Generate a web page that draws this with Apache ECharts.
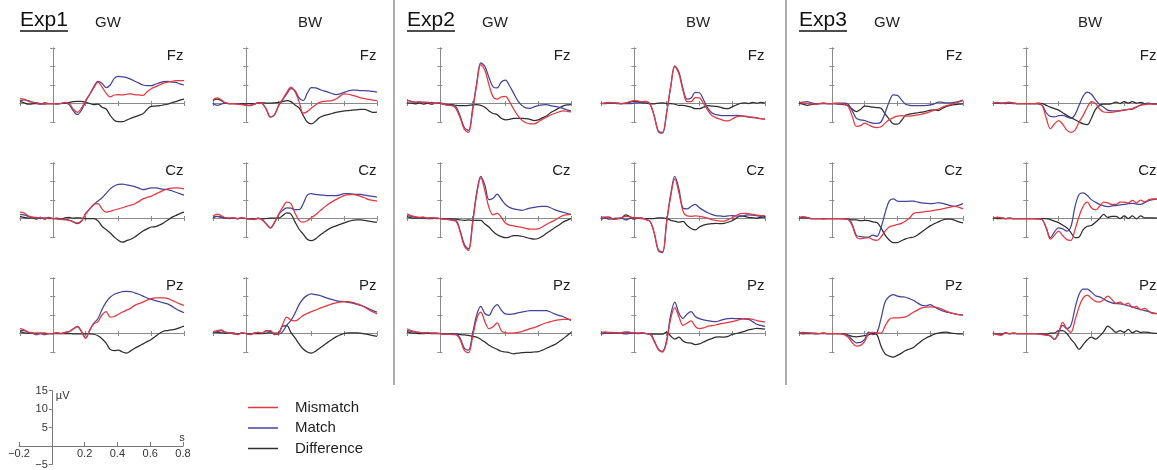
<!DOCTYPE html>
<html>
<head>
<meta charset="utf-8">
<script src="https://cdn.jsdelivr.net/npm/echarts@6/dist/echarts.min.js"></script>
<style>
  html, body { margin: 0; padding: 0; background: #ffffff; }
  #chart { width: 1157px; height: 470px; }
</style>
</head>
<body>
<div id="chart"></div>
<script>
// Sample times (s) shared by every waveform
const timeSec = [-0.2, -0.175, -0.15, -0.125, -0.1, -0.075, -0.05, -0.025, 0, 0.025,
  0.05, 0.075, 0.1, 0.125, 0.15, 0.175, 0.2, 0.225, 0.25, 0.275,
  0.3, 0.325, 0.35, 0.375, 0.4, 0.425, 0.45, 0.475, 0.5, 0.525,
  0.55, 0.575, 0.6, 0.625, 0.65, 0.675, 0.7, 0.725, 0.75, 0.775, 0.8];

const experiments = ['Exp1', 'Exp2', 'Exp3'];
const conditions = ['GW', 'BW'];
const electrodes = ['Fz', 'Cz', 'Pz'];
const seriesNames = ['Mismatch', 'Match', 'Difference'];
const scaleTimeTicks = [-0.2, 0.2, 0.4, 0.6, 0.8];
const scaleVoltTicks = [-5, 5, 10, 15];

// ---- Exp1, GW (µV) ----
const e1GwFzMis = [1.3, 1.2, 0.6, 0.3, 0.2, -0.2, 0, 0, 0, -0.1, 0, 0.3, 0, -1.5, -2.4, -1.2, 0.8, 2.5, 4.2, 5.8, 4.5, 2.8, 1.8, 2.3, 2.4, 2.3, 2.5, 2.6, 2.4, 2.3, 2.2, 3.2, 4.0, 4.5, 5.0, 5.5, 5.8, 6.0, 6.2, 6.2, 6.2];
const e1GwFzMat = [0.8, 1.0, 0.8, 0.4, 0.2, 0, -0.2, 0, 0, 0, 0, 0.2, -0.3, -2.0, -3.0, -1.8, 0.5, 2.5, 4.5, 6.0, 5.5, 4.3, 5.0, 6.8, 7.3, 7.2, 7.0, 6.6, 6.0, 5.5, 5.0, 4.8, 4.8, 5.2, 5.6, 5.9, 6.0, 5.8, 5.7, 5.3, 5.0];
const e1GwFzDif = [0.5, 0.2, -0.2, -0.1, 0, -0.2, 0.2, 0, 0, -0.1, 0, 0.1, 0.3, 0.5, 0.6, 0.6, 0.3, 0, -0.3, -0.2, -1.0, -1.5, -3.2, -4.5, -4.9, -4.9, -4.5, -4.0, -3.6, -3.2, -2.8, -1.6, -0.8, -0.7, -0.6, -0.4, -0.2, 0.2, 0.5, 0.9, 1.2];
const e1GwCzMis = [1.7, 1.5, 0.7, 0.4, 0.2, 0.3, -0.1, 0.2, 0, -0.1, -0.3, -0.3, -0.5, -0.9, -1.2, -0.6, 1.1, 2.6, 3.8, 4.0, 2.6, 1.7, 1.9, 2.3, 2.6, 2.9, 3.3, 3.6, 4.0, 4.6, 5.3, 5.7, 6.0, 6.6, 7.1, 7.6, 8.0, 8.2, 8.3, 8.2, 8.0];
const e1GwCzMat = [1.1, 1.0, 0.6, 0.3, 0.3, 0.0, 0.2, 0, 0, -0.1, -0.2, -0.3, -0.4, -0.9, -1.4, -0.8, 1.4, 2.6, 3.8, 4.7, 5.6, 6.8, 8.0, 8.8, 9.2, 9.3, 9.1, 8.9, 8.6, 8.2, 7.8, 8.0, 8.3, 8.3, 8.1, 7.9, 7.8, 7.5, 7.1, 6.7, 6.3];
const e1GwCzDif = [0.6, 0.3, 0.1, 0.2, -0.2, 0.3, -0.2, 0.3, 0, 0.1, -0.2, 0.2, 0.3, 0.1, 0.2, 0.1, 0, 0, 0, -0.6, -2.1, -3.0, -3.9, -5.0, -5.9, -6.4, -6.0, -5.6, -5.0, -4.2, -3.4, -2.8, -2.3, -2.2, -1.8, -1.2, -0.5, 0.3, 0.8, 1.3, 1.7];
const e1GwPzMis = [1.3, 1.0, 0.4, 0.2, -0.2, 0.1, -0.2, 0, 0, 0.2, 0.0, 0.3, 0.5, 1.2, 1.8, 0.5, -1.3, 0.8, 2.6, 3.2, 5.0, 5.9, 4.4, 4.6, 5.2, 5.8, 6.3, 6.8, 7.6, 8.1, 8.5, 9.0, 9.4, 9.6, 9.6, 9.6, 9.5, 9.0, 8.5, 8.0, 7.6];
const e1GwPzMat = [0.8, 0.8, 0.3, 0.1, -0.3, 0.0, -0.3, 0, 0, 0.2, 0.0, 0.3, 0.5, 1.3, 1.9, 0.6, -1.2, 0.9, 2.8, 4.0, 6.5, 8.5, 9.8, 10.6, 11.0, 11.3, 11.4, 11.3, 11.0, 10.6, 10.1, 9.6, 9.2, 8.9, 8.6, 8.3, 8.0, 7.4, 6.7, 6.1, 5.6];
const e1GwPzDif = [0.5, 0.2, 0.1, 0.1, 0.1, 0.1, 0.1, 0, 0, 0, 0, 0, 0, -0.1, -0.1, -0.1, -0.1, -0.1, -0.2, -0.6, -1.4, -2.6, -4.3, -4.6, -4.5, -5.0, -5.3, -4.7, -4.0, -3.4, -2.8, -2.2, -1.6, -0.8, 0, 0.6, 0.8, 1.0, 1.2, 1.6, 2.0];

// ---- Exp1, BW (µV) ----
const e1BwFzMis = [1.0, 1.5, 1.0, 0.2, 0, 0, -0.2, -0.3, -0.5, -0.6, -0.2, 0.2, 0, -1.5, -3.6, -3.0, -0.5, 1.2, 3.0, 4.4, 3.2, 0.5, -2.6, -2.2, -1.2, -0.4, 0.3, 0.6, 0.7, 0.8, 1.2, 2.0, 2.6, 2.5, 2.2, 1.9, 1.5, 1.3, 1.1, 0.9, 0.8];
const e1BwFzMat = [0, -0.5, -0.2, 0.1, 0, 0, -0.1, -0.2, -0.4, -0.5, -0.2, 0.2, 0, -1.6, -3.7, -3.1, -0.6, 1.0, 2.6, 4.0, 3.5, 1.5, 0.8, 2.8, 4.3, 4.2, 3.8, 3.4, 3.1, 2.7, 2.4, 2.6, 3.0, 3.4, 3.6, 3.6, 3.5, 3.5, 3.4, 3.3, 3.1];
const e1BwFzDif = [0.8, 1.2, 0.8, 0.1, 0, 0, 0, 0, -0.1, 0, 0, 0.1, 0.2, 0.1, 0.1, 0.2, 0.3, 0.5, 0.8, 0.5, -0.4, -1.2, -3.2, -5.0, -5.5, -4.8, -3.8, -3.3, -3.0, -2.7, -2.4, -2.2, -2.0, -1.9, -1.8, -1.7, -1.6, -1.6, -2.0, -2.4, -2.3];
const e1BwCzMis = [0.6, 1.2, 0.8, 0.2, 0.1, 0.2, 0, 0.2, 0, -0.2, -0.3, 0.1, -0.4, -1.5, -2.5, -1.0, 1.1, 3.0, 4.4, 4.0, 1.5, -0.5, -1.0, -0.6, 0.2, 1.0, 2.0, 2.9, 3.8, 4.5, 5.1, 5.7, 6.2, 6.4, 6.5, 6.3, 6.0, 5.6, 5.1, 4.9, 4.7];
const e1BwCzMat = [0.4, 0.6, 0.4, 0.1, 0, 0.1, 0, 0.1, 0, -0.1, -0.2, 0.1, -0.3, -1.5, -2.6, -1.1, 1.0, 2.2, 2.9, 2.8, 2.4, 2.4, 4.0, 6.3, 6.7, 6.5, 6.4, 6.3, 6.2, 6.2, 6.2, 6.4, 6.7, 6.7, 6.6, 6.5, 6.5, 6.3, 6.1, 6.0, 5.8];
const e1BwCzDif = [0.2, 0.6, 0.4, 0.1, 0.1, 0.1, 0, 0.1, 0, -0.1, -0.1, 0, -0.1, 0, 0.1, 0.1, 0.1, 0.8, 1.5, 1.2, -0.9, -2.9, -4.2, -5.6, -6.0, -5.5, -4.6, -3.8, -3.0, -2.4, -2.0, -1.6, -1.2, -0.8, -0.5, -0.4, -0.4, -0.5, -0.7, -0.9, -1.0];
const e1BwPzMis = [0.5, 0.8, 1.0, 0.4, 0.2, 0.1, -0.3, 0.2, 0, -0.3, 0.1, 0.3, 0.1, 0.8, 0.8, -0.2, 0, 2.5, 4.4, 3.6, 3.4, 4.0, 4.9, 5.4, 5.9, 6.3, 6.8, 7.2, 7.6, 8.0, 8.3, 8.5, 8.6, 8.6, 8.4, 8.1, 7.7, 7.1, 6.4, 5.8, 5.3];
const e1BwPzMat = [0.2, 0.5, 0.8, 0.3, 0.1, 0.2, -0.2, 0.1, 0, -0.2, 0.1, 0.3, 0.1, 0.7, 0.6, -0.3, -0.2, 0.5, 2.3, 3.5, 5.5, 7.8, 9.4, 10.3, 10.7, 10.5, 10.3, 9.9, 9.5, 9.2, 8.9, 8.7, 8.6, 8.4, 8.2, 7.9, 7.6, 7.2, 6.7, 6.2, 5.8];
const e1BwPzDif = [0.3, 0.3, 0.2, 0.1, 0.1, -0.1, -0.1, 0.1, 0, -0.1, 0, 0, 0, 0.1, 0.2, 0.1, 0.2, 2.0, 2.1, 0.3, -1.2, -2.8, -4.2, -5.0, -5.3, -4.8, -4.0, -3.2, -2.4, -1.6, -0.9, -0.4, 0, 0.2, 0.2, 0.2, 0.1, -0.1, -0.3, -0.6, -0.8];

// ---- Exp2, GW (µV) ----
const e2GwFzMis = [0.9, 0.6, 0.3, 0.5, 0.2, 0.4, 0.1, 0.1, 0.2, -0.2, -0.5, -0.6, -1.5, -4.0, -7.0, -7.8, -2.0, 5.0, 10.5, 9.0, 5.0, 1.8, 1.2, 1.8, 1.9, 0.5, -1.5, -3.2, -4.5, -5.2, -5.5, -5.5, -5.0, -4.3, -3.7, -3.1, -2.7, -2.3, -2.0, -2.1, -2.3];
const e2GwFzMat = [1.0, 0.5, 0.4, 0.3, 0.4, 0.2, 0.3, 0.0, 0.2, -0.1, -0.3, -0.5, -1.0, -3.5, -6.5, -7.3, -1.5, 5.5, 11.0, 10.0, 7.0, 4.5, 4.2, 5.8, 6.3, 4.8, 2.8, 0.8, -0.5, -1.2, -1.3, -0.9, -0.6, -0.4, -0.3, -0.6, -0.8, -1.0, -1.3, -1.7, -2.0];
const e2GwFzDif = [0.2, 0.1, -0.1, 0.2, -0.2, 0.1, -0.2, 0.1, 0, -0.2, -0.3, -0.3, -0.5, -0.6, -0.6, -0.5, -0.4, -0.3, -0.5, -1.0, -2.0, -2.7, -3.0, -4.0, -4.4, -4.3, -4.0, -4.0, -4.0, -4.1, -4.3, -4.6, -4.4, -3.9, -3.4, -2.5, -1.9, -1.3, -0.7, -0.4, -0.3];
const e2GwCzMis = [1.3, 0.8, 0.5, 0.3, 0.4, 0.1, 0.2, 0.1, 0, -0.2, -0.3, -0.5, -0.8, -3.8, -7.5, -8.6, -1.5, 6.5, 11.0, 7.5, 2.9, 1.0, 1.4, 0.3, -1.2, -1.8, -2.0, -2.2, -2.4, -2.7, -2.9, -2.9, -2.8, -2.3, -1.6, -1.0, -0.5, 0.2, 0.8, 1.0, 1.1];
const e2GwCzMat = [0.8, 0.6, 0.4, 0.2, 0.3, 0.1, 0.2, 0, 0, -0.1, -0.2, -0.4, -0.6, -3.4, -7.0, -8.2, -1.0, 7.0, 11.4, 9.0, 5.1, 5.5, 6.6, 5.2, 3.8, 3.0, 2.6, 2.4, 2.2, 2.5, 2.8, 3.0, 3.2, 3.3, 3.3, 2.9, 2.4, 2.0, 1.7, 1.4, 1.1];
const e2GwCzDif = [0.5, 0.2, 0.1, 0.1, 0.1, 0, 0, 0.1, 0, -0.1, -0.1, -0.1, -0.2, -0.4, -0.5, -0.4, -0.5, -0.5, -0.5, -1.5, -2.3, -3.5, -4.4, -4.9, -5.2, -5.0, -4.6, -4.6, -4.8, -5.1, -5.4, -5.6, -5.4, -4.8, -4.0, -3.3, -2.5, -1.8, -1.0, -0.5, 0];
const e2GwPzMis = [1.3, 0.8, 0.5, 0.3, 0.2, 0.3, 0.1, 0.1, 0, -0.2, -0.2, -0.3, -0.4, -1.8, -4.6, -5.2, -1.0, 4.0, 5.8, 3.2, 1.3, 1.8, 2.9, 0.8, 0.2, 0.1, 0.1, 0.3, 0.5, 0.9, 1.3, 1.6, 2.0, 2.5, 2.9, 3.2, 3.5, 3.7, 3.8, 3.8, 3.8];
const e2GwPzMat = [0.8, 0.6, 0.4, 0.3, 0.2, 0.2, 0.1, 0.1, 0, -0.1, -0.1, -0.2, -0.2, -1.4, -4.0, -4.5, 0, 5.0, 7.3, 5.4, 4.9, 6.8, 7.8, 6.3, 5.3, 5.2, 5.3, 5.6, 5.8, 6.0, 6.2, 6.2, 6.2, 6.2, 6.2, 5.8, 5.3, 4.9, 4.6, 4.1, 3.5];
const e2GwPzDif = [0.5, 0.2, 0.1, 0, 0, 0.1, 0, 0, 0, -0.1, -0.1, -0.1, -0.2, -0.3, -0.4, -0.5, -0.8, -1.0, -1.6, -2.3, -3.2, -3.8, -4.3, -4.8, -5.0, -5.2, -5.5, -5.3, -5.2, -5.1, -5.1, -5.0, -4.9, -4.5, -4.0, -3.5, -3.0, -2.3, -1.5, -0.6, 0.3];

// ---- Exp2, BW (µV) ----
const e2BwFzMis = [0, 0.1, 0.3, 0.2, 0.1, 0, 0.1, 0.5, 0.8, 0.7, 0.5, 0.6, -0.3, -3.5, -7.5, -7.8, -2.5, 4.5, 10.0, 8.0, 3.5, 0.5, 0.5, 1.6, 1.5, 0, -1.8, -3.2, -3.8, -4.2, -4.6, -4.7, -4.2, -3.6, -3.4, -3.4, -3.6, -3.7, -3.9, -4.1, -4.3];
const e2BwFzMat = [0, 0, 0.1, 0.1, 0, 0, 0, 0, 0.1, 0.2, 0.3, 0.5, -0.2, -3.4, -7.6, -8.0, -2.5, 4.5, 10.2, 8.5, 4.0, 1.2, 1.5, 3.0, 2.9, 1.0, -1.2, -2.5, -3.0, -3.2, -3.3, -3.3, -3.3, -3.2, -3.3, -3.5, -3.7, -3.8, -3.9, -4.1, -4.2];
const e2BwFzDif = [0, 0.1, 0.2, 0.1, 0.1, 0, 0.1, 0.4, 0.6, 0.5, 0.2, 0.1, -0.1, -0.1, 0.1, 0.2, 0, 0, -0.2, -0.5, -0.5, -0.7, -1.0, -1.4, -1.4, -1.0, -0.6, -0.7, -0.8, -1.0, -1.3, -1.4, -0.9, -0.4, 0, 0.2, 0, 0.3, 0.1, 0.3, 0.1];
const e2BwCzMis = [0.1, 0.4, 0.2, -0.2, 0, 0.2, 0.6, 0.5, 0.1, 0.2, 0.1, -0.3, -0.8, -4.0, -8.5, -9.0, -1.0, 6.0, 10.7, 7.0, 2.0, 0.7, 0.6, 0.7, 0.6, 0.4, 0.1, -0.3, -0.5, -0.7, -0.7, -0.3, 0.2, 0.8, 1.3, 1.4, 1.3, 1.1, 0.9, 0.8, 0.8];
const e2BwCzMat = [-0.3, 0.1, -0.2, 0, 0.1, 0.1, -0.4, 0.0, 0.3, 0.1, 0.1, -0.3, -0.8, -4.0, -8.7, -9.2, -1.0, 6.5, 11.4, 8.0, 2.8, 2.6, 3.3, 3.8, 2.9, 2.2, 1.6, 1.1, 0.8, 0.7, 0.6, 0.7, 0.8, 0.7, 0.6, 0.8, 1.0, 0.9, 0.8, 0.5, 0.2];
const e2BwCzDif = [0.4, 0.3, 0.4, -0.2, -0.1, 0.1, 1.0, 0.5, -0.2, 0.1, 0, 0, 0, 0, 0.2, 0.2, 0, -0.5, -0.7, -1.0, -0.8, -1.9, -2.7, -3.1, -2.3, -1.8, -1.5, -1.4, -1.3, -1.4, -1.3, -1.0, -0.6, 0.1, 0.7, 0.6, 0.3, 0.2, 0.1, 0.3, 0.6];
const e2BwPzMis = [0.2, 0.4, 0.3, 0.3, 0.2, 0.2, 0.4, 0.3, 0.2, 0.1, 0.2, 0, -0.3, -2.2, -4.4, -5.0, -2.3, 4.0, 7.0, 4.5, 2.2, 2.8, 3.4, 1.9, 1.3, 1.5, 1.9, 2.1, 2.3, 2.6, 2.8, 3.0, 3.2, 3.5, 3.8, 4.0, 4.0, 3.8, 3.5, 3.3, 3.1];
const e2BwPzMat = [-0.2, 0.1, 0.2, 0.1, 0.1, 0, -0.1, 0, 0.1, 0.1, 0.1, 0, 0, -2.0, -4.2, -4.8, -1.8, 5.0, 8.5, 5.5, 4.1, 5.3, 5.9, 4.6, 4.0, 3.7, 3.5, 3.3, 3.2, 3.5, 3.8, 4.0, 4.1, 4.0, 4.0, 3.9, 3.8, 3.2, 2.5, 2.2, 1.9];
const e2BwPzDif = [0.3, 0.3, 0.1, 0.2, 0.1, 0.2, 0.4, 0.3, 0.1, 0, 0.1, 0, -0.2, -0.2, -0.2, -0.2, 0.4, -0.7, -1.5, -1.0, -2.0, -2.5, -2.6, -3.0, -2.8, -2.3, -1.8, -1.4, -1.0, -0.9, -1.0, -0.8, -0.2, 0, 0.3, 0.6, 1.0, 1.2, 1.4, 1.3, 1.2];

// ---- Exp3, GW (µV) ----
const e3GwFzMis = [0.3, 0.2, 0, -0.1, -0.2, 0, 0.1, 0, 0, 0, -0.1, -0.2, -0.8, -3.5, -6.2, -6.0, -5.3, -5.8, -6.3, -6.5, -6.3, -5.3, -4.4, -3.8, -3.4, -3.3, -3.4, -3.4, -3.3, -3.1, -2.9, -2.6, -2.2, -1.8, -1.5, -1.0, -0.6, -0.3, 0, 0.4, 0.8];
const e3GwFzMat = [0.2, 0.4, 0.5, 0.2, 0, 0, 0.1, 0, 0, 0.1, 0.1, 0.1, -0.2, -2.0, -4.0, -4.4, -4.6, -5.0, -5.3, -5.4, -5.0, -2.5, 0.5, 2.3, 2.2, 1.0, -0.2, -0.5, -0.6, -0.6, -0.6, -0.5, -0.4, -0.1, 0.4, 0.3, 0.2, 0.2, 0.3, 0.6, 0.9];
const e3GwFzDif = [0.1, -0.2, -0.5, -0.3, -0.2, 0, 0, 0, 0, -0.1, -0.2, -0.3, -0.6, -1.5, -2.2, -1.6, -0.7, -0.8, -1.0, -1.1, -1.3, -2.8, -4.2, -5.5, -5.6, -4.6, -3.2, -2.9, -2.7, -2.5, -2.3, -2.1, -1.8, -1.7, -1.9, -1.3, -0.8, -0.5, -0.3, -0.2, -0.1];
const e3GwCzMis = [0.3, 0.5, 0.3, 0, 0, 0, -0.1, 0, 0, 0, 0, -0.1, -0.3, -2.0, -5.0, -5.5, -5.3, -5.2, -5.7, -5.9, -5.0, -3.4, -2.3, -1.9, -1.6, -1.3, -0.7, 0.2, 1.4, 1.6, 1.7, 1.9, 2.0, 2.2, 2.4, 2.6, 2.9, 3.1, 3.3, 3.0, 2.6];
const e3GwCzMat = [0.1, 0.3, 0.2, 0, 0, 0, 0, 0, 0, 0, 0, 0, -0.1, -1.6, -4.6, -4.9, -5.0, -5.0, -4.5, -4.8, -2.5, 1.5, 4.7, 5.3, 4.7, 4.6, 4.6, 4.7, 4.7, 4.4, 4.2, 4.1, 4.0, 4.1, 4.3, 4.1, 3.8, 3.5, 3.3, 3.6, 4.0];
const e3GwCzDif = [0.2, 0.2, 0.1, 0, 0, 0, -0.1, 0, 0, 0, 0, -0.1, -0.2, -0.4, -0.4, -0.6, -0.5, -0.6, -0.9, -1.1, -2.5, -4.5, -5.8, -6.5, -6.5, -6.0, -5.5, -5.2, -5.0, -4.4, -3.6, -2.8, -2.0, -1.4, -0.9, -0.4, -0.2, -0.2, -0.5, -0.9, -1.2];
const e3GwPzMis = [0.1, 0.2, 0.2, 0.1, 0, 0, 0.1, 0, 0, 0, 0, -0.3, -1.0, -2.5, -3.4, -3.2, -2.2, 0, 0.3, 0.2, 0.1, 2.0, 3.8, 4.2, 4.2, 4.3, 4.5, 5.1, 5.8, 6.4, 6.9, 7.1, 7.2, 7.1, 6.9, 6.5, 6.0, 5.6, 5.3, 5.1, 4.9];
const e3GwPzMat = [0.1, 0.3, 0.2, 0.1, 0.1, 0, 0, 0, 0, 0, 0, -0.2, -0.6, -1.7, -2.5, -2.4, -1.6, 0.4, -0.3, 0.2, 4.0, 8.5, 10.0, 10.5, 10.1, 9.9, 9.8, 9.4, 8.9, 8.2, 7.6, 7.5, 7.8, 7.2, 6.6, 6.1, 5.8, 5.6, 5.3, 5.1, 5.0];
const e3GwPzDif = [0, -0.1, 0, 0, -0.1, 0, 0.1, 0, 0, 0, 0, -0.1, -0.4, -0.8, -0.9, -0.8, -0.6, -0.4, 0.1, -0.3, -3.4, -5.5, -6.1, -6.4, -5.9, -5.3, -4.6, -4.2, -3.7, -2.8, -1.9, -1.2, -0.7, -0.2, 0.1, 0.3, 0.4, 0.1, 0, -0.1, -0.1];

// ---- Exp3, BW (µV) ----
const e3BwFzMis = [0, 0.3, 0.1, 0.2, 0.4, 0.1, 0, 0, 0, 0, 0, 0, -0.5, -4.0, -6.8, -5.5, -4.6, -5.6, -7.2, -7.8, -7.2, -5.0, -3.2, -1.0, 0.5, 0.0, -1.5, -2.3, -2.4, -2.4, -2.2, -2.0, -1.8, -1.6, -1.4, -0.9, -0.5, -0.3, -0.2, -0.2, -0.2];
const e3BwFzMat = [0, 0.1, 0.1, 0, 0.1, 0, 0, 0, 0, 0, 0, -0.1, -0.5, -2.5, -3.5, -3.6, -3.3, -3.2, -3.6, -4.0, -3.0, -0.5, 2.0, 3.1, 2.5, 1.0, -0.3, -1.0, -1.8, -2.0, -2.0, -1.9, -1.7, -1.6, -1.5, -1.0, -0.4, -0.1, 0, -0.1, -0.2];
const e3BwFzDif = [0, 0.2, 0, 0.2, 0.1, 0.1, 0, 0, 0, 0, 0, 0.1, 0, -0.5, -1.0, -1.4, -1.8, -2.5, -3.2, -3.8, -4.4, -5.0, -5.5, -5.7, -4.0, -1.6, -0.5, -0.2, -0.2, 0, 0.4, 0, 0.5, 0.1, 0.5, 0.1, 0.3, 0, 0.1, -0.1, 0];
const e3BwCzMis = [0.2, 0.3, 0.2, 0, 0.1, 0, 0, 0, 0, 0, 0, -0.1, -0.3, -2.6, -5.6, -4.5, -3.4, -4.6, -5.7, -5.9, -3.0, 0.6, 3.3, 4.4, 2.9, 2.3, 3.3, 4.4, 4.2, 3.8, 3.8, 4.4, 4.4, 4.2, 4.9, 4.2, 5.0, 4.5, 5.1, 5.3, 5.3];
const e3BwCzMat = [0.1, 0.3, 0.2, 0, 0, 0, 0, 0, 0, 0, 0, -0.1, -0.3, -2.6, -5.2, -3.6, -2.5, -2.8, -3.4, -2.2, 3.2, 6.5, 6.9, 6.2, 5.1, 4.4, 3.8, 3.4, 3.2, 3.4, 3.5, 3.7, 3.8, 4.0, 4.1, 3.9, 3.8, 4.3, 4.8, 5.1, 5.3];
const e3BwCzDif = [0.1, 0, 0, 0, 0.1, 0, 0, 0, 0, 0, 0, 0, 0, 0, -0.3, -0.7, -1.1, -1.8, -2.5, -3.8, -5.2, -5.0, -3.0, -2.1, -1.9, -1.0, 0.0, 1.1, 0.3, 0.6, 0.6, 0.0, 0.7, 0.0, 0.7, -0.1, 0.7, 0.2, 0.2, 0.2, 0.1];
const e3BwPzMis = [0.1, -0.3, -0.5, 0.2, 0, 0.1, 0, 0, 0, 0, 0, -0.1, -0.3, -0.5, -0.6, -1.6, 0.2, 3.0, 1.3, 0.3, 3.6, 7.2, 9.6, 10.4, 9.5, 8.7, 8.5, 9.2, 10.1, 9.2, 8.2, 8.5, 7.8, 8.2, 7.0, 7.3, 6.4, 6.8, 6.0, 5.4, 5.4];
const e3BwPzMat = [0.1, -0.1, -0.3, 0.1, 0, 0, 0, 0, 0, 0, 0, 0, 0, -0.3, -0.7, -1.6, 0.4, 2.2, 1.3, 2.2, 6.8, 10.6, 12.0, 12.0, 11.2, 10.2, 9.9, 9.3, 8.7, 8.3, 8.1, 8.0, 7.8, 7.5, 7.2, 6.8, 6.5, 6.2, 5.9, 5.6, 5.4];
const e3BwPzDif = [0, -0.2, -0.2, 0.1, 0, 0.1, 0, 0, 0, 0, 0, -0.1, -0.2, -0.2, 0.1, 0.1, 0.8, 0.8, 0, -1.5, -2.8, -4.3, -3.0, -1.7, -1.0, -1.5, -0.7, 0.5, 2.0, 1.2, 0.3, 0.8, 0.3, 1.1, 0.2, 0.7, 0.3, 0.4, 0.3, 0.1, 0];

// Waveforms per experiment / condition / electrode: [mismatch, match, difference]
const waves = {
  Exp1: {
    GW: { Fz: [e1GwFzMis, e1GwFzMat, e1GwFzDif], Cz: [e1GwCzMis, e1GwCzMat, e1GwCzDif], Pz: [e1GwPzMis, e1GwPzMat, e1GwPzDif] },
    BW: { Fz: [e1BwFzMis, e1BwFzMat, e1BwFzDif], Cz: [e1BwCzMis, e1BwCzMat, e1BwCzDif], Pz: [e1BwPzMis, e1BwPzMat, e1BwPzDif] }
  },
  Exp2: {
    GW: { Fz: [e2GwFzMis, e2GwFzMat, e2GwFzDif], Cz: [e2GwCzMis, e2GwCzMat, e2GwCzDif], Pz: [e2GwPzMis, e2GwPzMat, e2GwPzDif] },
    BW: { Fz: [e2BwFzMis, e2BwFzMat, e2BwFzDif], Cz: [e2BwCzMis, e2BwCzMat, e2BwCzDif], Pz: [e2BwPzMis, e2BwPzMat, e2BwPzDif] }
  },
  Exp3: {
    GW: { Fz: [e3GwFzMis, e3GwFzMat, e3GwFzDif], Cz: [e3GwCzMis, e3GwCzMat, e3GwCzDif], Pz: [e3GwPzMis, e3GwPzMat, e3GwPzDif] },
    BW: { Fz: [e3BwFzMis, e3BwFzMat, e3BwFzDif], Cz: [e3BwCzMis, e3BwCzMat, e3BwCzDif], Pz: [e3BwPzMis, e3BwPzMat, e3BwPzDif] }
  }
};

// ---- layout & style ----
const FONT = '"Liberation Sans", Arial, Helvetica, sans-serif';
const COLORS = ['#e8363e', '#43439e', '#2e2e2e'];   // mismatch, match, difference
const Z_ORDER = [4, 3, 2];
const AXIS_COLOR = '#8a8a8a';
const COL_X = [20, 213, 407, 601, 799, 993];       // left edge (t = -0.2 s) of each column
const ROW_ZERO = [103.5, 218.5, 333.5];            // y pixel of 0 µV for each row
const PANEL_W = 164;
const PX_PER_UV = 3.7;
const V_MIN = -5, V_MAX = 15;
const T_MIN = -0.2, T_MAX = 0.8;

const option = {
  animation: false,
  backgroundColor: '#ffffff',
  textStyle: { fontFamily: FONT },
  grid: [], xAxis: [], yAxis: [], series: [],
  legend: {
    orient: 'vertical', left: 248, top: 400, padding: 0,
    itemWidth: 30, itemHeight: 1.5, itemGap: 5.5, icon: 'rect',
    selectedMode: false,
    data: seriesNames,
    textStyle: { fontSize: 15, color: '#1e1e1e', fontFamily: FONT, lineHeight: 15, padding: [0, 0, 0, 12] }
  }
};

function panelXAxis(gi, position, tickLen) {
  return {
    type: 'value', gridIndex: gi, position: position, min: T_MIN, max: T_MAX, interval: 0.2,
    axisLine: { show: true, onZero: true, lineStyle: { color: AXIS_COLOR, width: 1 } },
    axisTick: { show: true, length: tickLen, lineStyle: { color: AXIS_COLOR, width: 1 } },
    axisLabel: { show: false }, splitLine: { show: false }
  };
}
function panelYAxis(gi, position, tickLen) {
  return {
    type: 'value', gridIndex: gi, position: position, min: V_MIN, max: V_MAX, interval: 5,
    axisLine: { show: true, onZero: true, lineStyle: { color: AXIS_COLOR, width: 1 } },
    axisTick: { show: true, length: tickLen, lineStyle: { color: AXIS_COLOR, width: 1 } },
    axisLabel: { show: false }, splitLine: { show: false }
  };
}
function hiddenAxis(gi) {
  return { type: 'value', gridIndex: gi, show: false, min: 0, max: 1 };
}

const graphics = [];

experiments.forEach(function (exp, ei) {
  conditions.forEach(function (cond, ci) {
    const col = ei * 2 + ci;
    electrodes.forEach(function (el, ri) {
      const gi = option.grid.length;
      option.grid.push({
        left: COL_X[col], top: ROW_ZERO[ri] - V_MAX * PX_PER_UV,
        width: PANEL_W, height: (V_MAX - V_MIN) * PX_PER_UV,
        outerBoundsMode: 'none', containLabel: false
      });
      // paired axes give ticks on both sides of each axis line
      const xa = option.xAxis.length;
      option.xAxis.push(panelXAxis(gi, 'bottom', 2.5), panelXAxis(gi, 'top', 2.5));
      const ya = option.yAxis.length;
      option.yAxis.push(panelYAxis(gi, 'left', 2.5), panelYAxis(gi, 'right', 2.5));

      const set = waves[exp][cond][el];
      [2, 1, 0].forEach(function (k) {
        option.series.push({
          type: 'line', name: seriesNames[k],
          xAxisIndex: xa, yAxisIndex: ya,
          data: timeSec.map(function (t, i) { return [t, set[k][i]]; }),
          smooth: 0.35, symbol: 'none', showSymbol: false, clip: false,
          lineStyle: { color: COLORS[k], width: 1.25 },
          itemStyle: { color: COLORS[k] },
          emphasis: { disabled: true }, silent: true, z: Z_ORDER[k]
        });
      });

      // electrode label, top-right of the panel
      graphics.push({
        type: 'text', x: COL_X[col] + PANEL_W - 0.5, y: ROW_ZERO[ri] - 47.5,
        style: { text: el, font: '15px ' + FONT, fill: '#1e1e1e',
                 textAlign: 'right', textVerticalAlign: 'middle', align: 'right', verticalAlign: 'middle' }
      });
    });
    // condition heading
    graphics.push({
      type: 'text', x: COL_X[col] + (ci === 0 ? 88 : 97), y: 23,
      style: { text: cond, font: '15px ' + FONT, fill: '#1e1e1e',
               textAlign: 'center', textVerticalAlign: 'middle', align: 'center', verticalAlign: 'middle' }
    });
  });
  // experiment heading, underlined
  const hx = COL_X[ei * 2];
  graphics.push({
    type: 'text', x: hx, y: 20,
    style: { text: exp, font: '21px ' + FONT, fill: '#111111',
             textAlign: 'left', textVerticalAlign: 'middle', align: 'left', verticalAlign: 'middle' }
  });
  graphics.push({
    type: 'line', shape: { x1: hx, y1: 31, x2: hx + 48, y2: 31 },
    style: { stroke: '#111111', lineWidth: 1.4 }
  });
});

// vertical dividers between experiments
[394, 786].forEach(function (x) {
  graphics.push({ type: 'line', shape: { x1: x, y1: 0, x2: x, y2: 385 }, style: { stroke: '#5a5a5a', lineWidth: 1 } });
});

// calibration axes (bottom-left): a time axis along 0 µV and a voltage axis at 0 s
const SB_LEFT = 19, SB_ZERO = 446;
const SB_T0 = SB_LEFT + (0 - T_MIN) / (T_MAX - T_MIN) * PANEL_W;

const sbTimeGrid = option.grid.length;
option.grid.push({ left: SB_LEFT, top: SB_ZERO - 10, width: PANEL_W, height: 10, outerBoundsMode: 'none', containLabel: false });
option.xAxis.push({
  type: 'value', gridIndex: sbTimeGrid, position: 'bottom', min: T_MIN, max: T_MAX, interval: 0.2,
  axisLine: { show: true, onZero: false, lineStyle: { color: '#777777', width: 1 } },
  axisTick: { show: true, inside: true, length: 4, lineStyle: { color: '#777777' } },
  axisLabel: {
    show: true, margin: 2, fontSize: 11, color: '#333333', fontFamily: FONT,
    formatter: function (v) {
      const r = Math.round(v * 10) / 10;
      if (scaleTimeTicks.indexOf(r) < 0) return '';
      return (r < 0 ? '\u2212' : '') + Math.abs(r).toFixed(1);
    }
  },
  splitLine: { show: false }
});
option.yAxis.push(hiddenAxis(sbTimeGrid));

const sbVoltGrid = option.grid.length;
option.grid.push({
  left: SB_T0, top: SB_ZERO - V_MAX * PX_PER_UV, width: 10, height: (V_MAX - V_MIN) * PX_PER_UV,
  outerBoundsMode: 'none', containLabel: false
});
option.xAxis.push(hiddenAxis(sbVoltGrid));
option.yAxis.push({
  type: 'value', gridIndex: sbVoltGrid, position: 'left', min: V_MIN, max: V_MAX, interval: 5,
  axisLine: { show: true, onZero: false, lineStyle: { color: '#777777', width: 1 } },
  axisTick: { show: true, length: 3, lineStyle: { color: '#777777' } },
  axisLabel: {
    show: true, margin: 4, fontSize: 11, color: '#333333', fontFamily: FONT,
    formatter: function (v) {
      if (scaleVoltTicks.indexOf(v) < 0) return '';
      return (v < 0 ? '\u2212' : '') + Math.abs(v);
    }
  },
  splitLine: { show: false }
});

graphics.push({
  type: 'text', x: SB_T0 + 4, y: SB_ZERO - V_MAX * PX_PER_UV + 5,
  style: { text: 'µV', font: '11px ' + FONT, fill: '#333333',
           textAlign: 'left', textVerticalAlign: 'middle', align: 'left', verticalAlign: 'middle' }
});
graphics.push({
  type: 'text', x: SB_LEFT + PANEL_W - 1, y: SB_ZERO - 8,
  style: { text: 's', font: '11px ' + FONT, fill: '#333333',
           textAlign: 'center', textVerticalAlign: 'middle', align: 'center', verticalAlign: 'middle' }
});

option.graphic = { elements: graphics };

const chart = echarts.init(document.getElementById('chart'), null, { renderer: 'canvas', devicePixelRatio: 1 });
chart.setOption(option);
</script>
</body>
</html>
